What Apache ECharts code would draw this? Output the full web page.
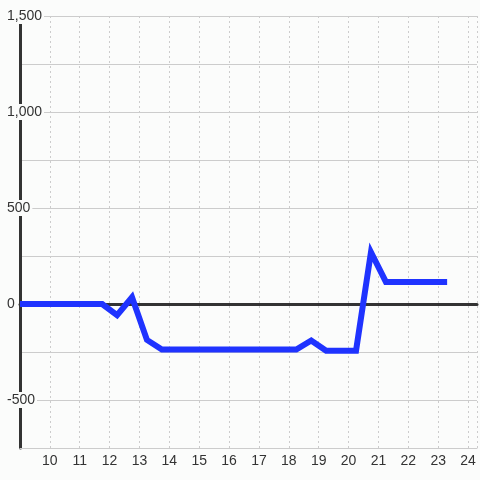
<!DOCTYPE html>
<html>
<head>
<meta charset="utf-8">
<script src="https://cdn.jsdelivr.net/npm/echarts@6/dist/echarts.min.js"></script>
<style>
  html, body { margin: 0; padding: 0; background: #fbfcfb; }
  #chart { width: 480px; height: 480px; }
</style>
</head>
<body>
<div id="chart"></div>
<script>
// data
var xData = [9, 11.75, 12.25, 12.75, 13.25, 13.75, 18.25, 18.75, 19.25, 20.25, 20.75, 21.25, 23.3];
var yData = [0, 0, -58, 35, -187, -237, -237, -190, -243, -243, 270, 115, 115];
var xTicks = [10, 11, 12, 13, 14, 15, 16, 17, 18, 19, 20, 21, 22, 23, 24];
var yTicks = [-500, 0, 500, 1000, 1500];

var bg = '#fbfcfb';
var dom = document.getElementById('chart');
var chart = echarts.init(dom, null, { width: 480, height: 480 });

var points = xData.map(function (x, i) { return [x, yData[i]]; });

var option = {
    backgroundColor: bg,
    animation: false,
    grid: { left: 20, right: 0, top: 16, bottom: 32 },
    xAxis: [
        {
            type: 'value',
            min: 9,
            max: 24.3,
            interval: 1,
            axisLine: { onZero: false, lineStyle: { color: '#cccccc', width: 1 } },
            axisTick: { show: false },
            axisLabel: {
                color: '#333333',
                fontSize: 14,
                fontFamily: 'Liberation Sans',
                margin: 6,
                formatter: function (v) {
                    return xTicks.indexOf(v) >= 0 ? String(v) : '';
                }
            },
            splitLine: { show: true, lineStyle: { color: '#cccccc', type: [2, 3], width: 1 } }
        },
        {
            type: 'value',
            position: 'bottom',
            min: 9,
            max: 24.3,
            interval: 1,
            axisLine: { onZero: true, lineStyle: { color: '#333333', width: 3 } },
            axisTick: { show: false },
            axisLabel: { show: false },
            splitLine: { show: false }
        }
    ],
    yAxis: {
        type: 'value',
        min: -750,
        max: 1500,
        interval: 250,
        axisLine: { show: true, onZero: false, lineStyle: { color: '#333333', width: 3 } },
        axisTick: { show: false },
        axisLabel: {
            color: '#333333',
            fontSize: 14,
            fontFamily: 'Liberation Sans',
            align: 'left',
            margin: 13,
            backgroundColor: bg,
            padding: [1, 2, 1, 0],
            formatter: function (v) {
                if (yTicks.indexOf(v) < 0) return '';
                return v.toLocaleString('en-US');
            }
        },
        splitLine: { show: true, lineStyle: { color: '#cccccc', width: 1 } }
    },
    series: [
        {
            type: 'line',
            data: points,
            symbol: 'none',
            lineStyle: { color: '#1f33ff', width: 6, cap: 'butt', join: 'miter' },
            z: 5
        }
    ]
};

chart.setOption(option);
</script>
</body>
</html>
